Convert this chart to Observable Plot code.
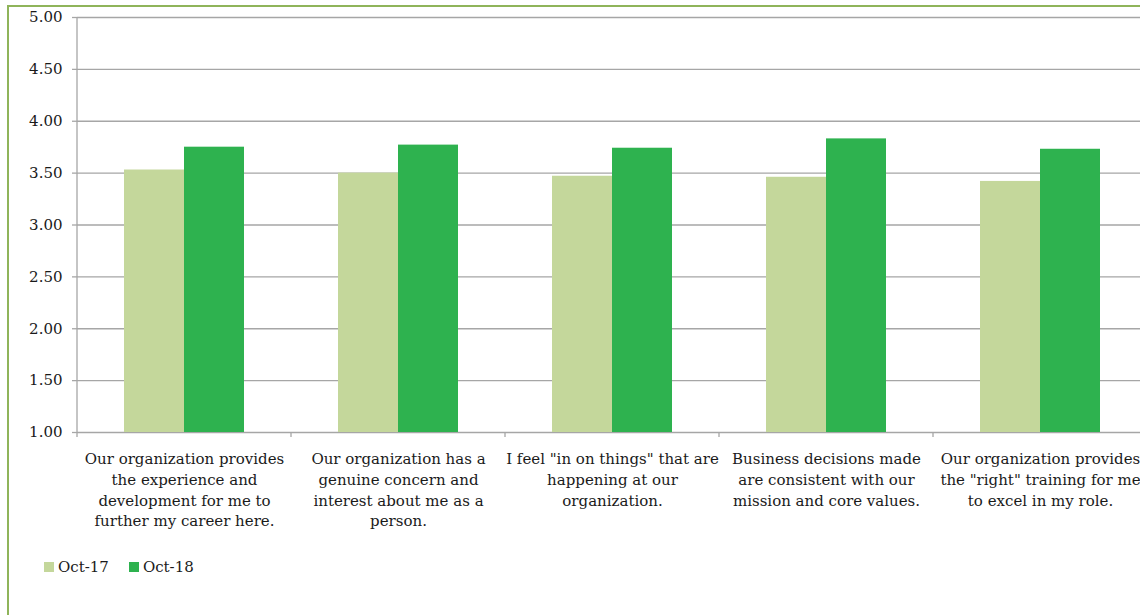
<!DOCTYPE html>
<html><head><meta charset="utf-8">
<script src="https://cdn.jsdelivr.net/npm/d3@7"></script>
<script src="https://cdn.jsdelivr.net/npm/@observablehq/plot@0.6"></script>
<style>
html,body{margin:0;padding:0;background:#fff;overflow:hidden}
#wrap{position:relative;width:1140px;height:615px;overflow:hidden;font-family:"DejaVu Serif",serif;color:#1a1a1a;background:#fff}
#border{position:absolute;left:7px;top:5px;width:1300px;height:800px;border:2px solid #8FB45A;box-sizing:border-box}
#chart{position:absolute;left:0;top:0}
#legend{position:absolute;left:44px;top:557px;font-family:"DejaVu Serif",serif;font-size:15px;color:#1a1a1a;display:flex;align-items:center;line-height:20px}
#legend .item{display:inline-flex;align-items:center;margin-right:20px}
#legend .sw{display:inline-block;width:10px;height:10px;margin-right:4px}
</style></head><body>
<div id="wrap"><div id="border"></div><div id="chart"></div><div id="legend"></div></div>
<script>
const categories = [
  "Our organization provides\nthe experience and\ndevelopment for me to\nfurther my career here.",
  "Our organization has a\ngenuine concern and\ninterest about me as a\nperson.",
  "I feel \"in on things\" that are\nhappening at our\norganization.",
  "Business decisions made\nare consistent with our\nmission and core values.",
  "Our organization provides\nthe \"right\" training for me\nto excel in my role."
];
const series = ["Oct-17", "Oct-18"];
const oct17 = [3.53, 3.50, 3.47, 3.46, 3.42];
const oct18 = [3.75, 3.77, 3.74, 3.83, 3.73];
const yTicks = [1, 1.5, 2, 2.5, 3, 3.5, 4, 4.5, 5];
const colors = ["#C4D79B", "#2EB24F"];

const data = categories.flatMap((c, i) => [
  {category: c, series: series[0], value: oct17[i]},
  {category: c, series: series[1], value: oct18[i]}
]);

const grey = "#A6A6A6";
const chart = Plot.plot({
  width: 1160,
  height: 545,
  marginLeft: 76,
  marginRight: 12,
  marginTop: 17,
  marginBottom: 113,
  style: "max-width:none;font-family:'DejaVu Serif',serif;font-size:15px;color:#1a1a1a;background:transparent;overflow:visible",
  fx: {domain: categories, padding: 0, label: null},
  x: {domain: series, paddingInner: 0, paddingOuter: 0.757, axis: null},
  y: {domain: [1, 5], label: null},
  color: {domain: series, range: colors},
  marks: [
    Plot.gridY(yTicks, {stroke: grey, strokeOpacity: 1, strokeWidth: 1.3}),
    Plot.barY(data, {fx: "category", x: "series", y1: 1, y2: "value", fill: "series"}),
    Plot.axisY(yTicks, {tickSize: 5, tickPadding: 10, tickFormat: d3.format(".2f"), stroke: grey, strokeWidth: 1.3, fill: "#1a1a1a", label: null}),
    Plot.axisFx({anchor: "bottom", tickSize: 0, tickPadding: 17, lineHeight: 1.38, label: null, fill: "#1a1a1a"})
  ]
});

// category boundary ticks and y axis line, placed with the library's own scales
const fx = chart.scale("fx"), y = chart.scale("y");
const bounds = categories.map(c => fx.apply(c));
bounds.push(bounds[bounds.length - 1] + fx.bandwidth);
const g = d3.select(chart).append("g").attr("stroke", grey).attr("stroke-width", 1.3);
g.selectAll("line.b").data(bounds).join("line")
  .attr("x1", d => d).attr("x2", d => d)
  .attr("y1", y.apply(yTicks[0])).attr("y2", y.apply(yTicks[0]) + 5);
g.append("line").attr("x1", bounds[0]).attr("x2", bounds[0])
  .attr("y1", y.apply(yTicks[yTicks.length - 1])).attr("y2", y.apply(yTicks[0]));

document.getElementById("chart").appendChild(chart);

// legend built from the plot's color scale
const color = chart.scale("color");
const items = d3.select("#legend").selectAll(".item").data(color.domain).join("span").attr("class", "item");
items.append("span").attr("class", "sw").style("background", d => color.apply(d));
items.append("span").text(d => d);
</script>
</body></html>
